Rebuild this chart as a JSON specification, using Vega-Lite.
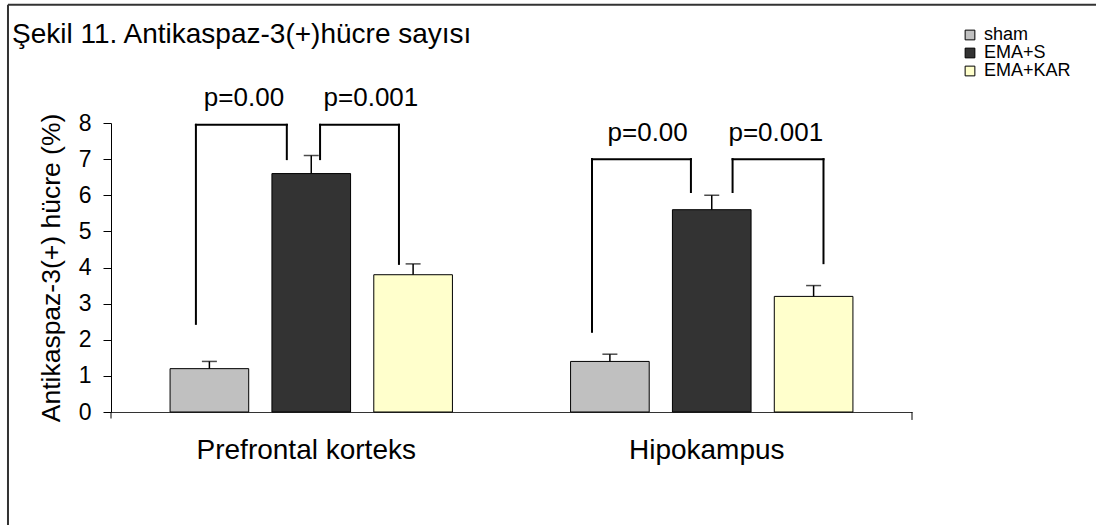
{
  "$schema": "https://vega.github.io/schema/vega-lite/v6.json",
  "width": 801,
  "height": 289,
  "autosize": {"type": "none"},
  "padding": {"left": 111, "top": 123, "right": 184, "bottom": 113},
  "background": "white",
  "config": {
    "font": "Liberation Sans",
    "view": {"stroke": null},
    "axis": {"labelColor": "black", "titleColor": "black", "domainColor": "black", "tickColor": "black", "grid": false, "labelFont": "Liberation Sans", "titleFont": "Liberation Sans"},
    "axisY": {"tickCount": 8, "labelOverlap": false},
    "legend": {"labelFont": "Liberation Sans", "labelColor": "black"}
  },
  "title": {
    "text": "Şekil 11. Antikaspaz-3(+)hücre sayısı",
    "anchor": "start",
    "frame": "group",
    "fontSize": 28,
    "fontWeight": "normal",
    "color": "black",
    "font": "Liberation Sans",
    "baseline": "alphabetic",
    "dx": -99,
    "offset": -67
  },
  "datasets": {
    "bars": [
      {"group": "Prefrontal korteks", "treatment": "sham", "value": 1.2, "upper": 1.4},
      {"group": "Prefrontal korteks", "treatment": "EMA+S", "value": 6.6, "upper": 7.1},
      {"group": "Prefrontal korteks", "treatment": "EMA+KAR", "value": 3.8, "upper": 4.1},
      {"group": "Hipokampus", "treatment": "sham", "value": 1.4, "upper": 1.6},
      {"group": "Hipokampus", "treatment": "EMA+S", "value": 5.6, "upper": 6.0},
      {"group": "Hipokampus", "treatment": "EMA+KAR", "value": 3.2, "upper": 3.5}
    ],
    "brackets": [
      {"id": "pfc1", "x": 0.212, "x2": 0.212, "y": 2.44, "y2": 7.95},
      {"id": "pfc1", "x": 0.212, "x2": 0.439, "y": 7.95, "y2": 7.95},
      {"id": "pfc1", "x": 0.439, "x2": 0.439, "y": 7.95, "y2": 7.0},
      {"id": "pfc2", "x": 0.522, "x2": 0.522, "y": 7.0, "y2": 7.95},
      {"id": "pfc2", "x": 0.522, "x2": 0.719, "y": 7.95, "y2": 7.95},
      {"id": "pfc2", "x": 0.719, "x2": 0.719, "y": 7.95, "y2": 4.1},
      {"id": "hip1", "x": 1.201, "x2": 1.201, "y": 2.22, "y2": 7.0},
      {"id": "hip1", "x": 1.201, "x2": 1.448, "y": 7.0, "y2": 7.0},
      {"id": "hip1", "x": 1.448, "x2": 1.448, "y": 7.0, "y2": 6.09},
      {"id": "hip2", "x": 1.552, "x2": 1.552, "y": 6.09, "y2": 7.0},
      {"id": "hip2", "x": 1.552, "x2": 1.779, "y": 7.0, "y2": 7.0},
      {"id": "hip2", "x": 1.779, "x2": 1.779, "y": 7.0, "y2": 4.12}
    ],
    "plabels": [
      {"x": 0.332, "y": 8.7, "label": "p=0.00"},
      {"x": 0.649, "y": 8.7, "label": "p=0.001"},
      {"x": 1.34, "y": 7.73, "label": "p=0.00"},
      {"x": 1.66, "y": 7.73, "label": "p=0.001"}
    ]
  },
  "layer": [
    {
      "data": {"name": "bars"},
      "encoding": {
        "x": {
          "field": "group", "type": "nominal",
          "sort": ["Prefrontal korteks", "Hipokampus"],
          "scale": {"paddingInner": 0, "paddingOuter": 0},
          "axis": {"title": null, "labelAngle": 0, "labelFontSize": 28, "labelPadding": 24, "labelLimit": 0, "labelOffset": -5, "ticks": false, "domainColor": "#333333", "domainWidth": 1}
        },
        "xOffset": {
          "field": "treatment", "type": "nominal",
          "sort": ["sham", "EMA+S", "EMA+KAR"],
          "scale": {"paddingInner": 0.228, "paddingOuter": 0.58}
        },
        "y": {
          "field": "value", "type": "quantitative",
          "scale": {"domain": [0, 8], "nice": false},
          "axis": {"title": "Antikaspaz-3(+) hücre (%)", "titleFontSize": 26.5, "titleFontWeight": "normal", "titleX": -60, "titleY": 144.5, "titleAlign": "center", "titleBaseline": "middle", "labelFontSize": 23, "labelPadding": 12, "tickSize": 8, "domainWidth": 1, "tickWidth": 1}
        }
      },
      "layer": [
        {
          "mark": {"type": "bar", "stroke": "black", "strokeWidth": 1},
          "encoding": {
            "color": {
              "field": "treatment", "type": "nominal",
              "scale": {"domain": ["sham", "EMA+S", "EMA+KAR"], "range": ["#C0C0C0", "#333333", "#FFFFCC"]},
              "legend": {"title": null, "orient": "none", "legendX": 850, "legendY": -97, "labelFontSize": 18, "symbolType": "square", "symbolSize": 95, "symbolStrokeColor": "black", "symbolStrokeWidth": 1, "rowPadding": 0, "labelOffset": 5}
            }
          }
        },
        {
          "mark": {"type": "rule", "color": "black", "strokeWidth": 1.5},
          "encoding": {"y2": {"field": "upper"}}
        },
        {
          "mark": {"type": "tick", "color": "black", "thickness": 1.5, "size": 15, "orient": "horizontal"},
          "encoding": {
            "y": {"field": "upper", "type": "quantitative"}
          }
        }
      ]
    },
    {
      "layer": [
        {
          "data": {"name": "brackets"},
          "mark": {"type": "rule", "color": "black", "strokeWidth": 2, "strokeCap": "square"},
          "encoding": {
            "x": {"field": "x", "type": "quantitative", "scale": {"domain": [0, 2], "nice": false, "zero": false}, "axis": null},
            "x2": {"field": "x2"},
            "y": {"field": "y", "type": "quantitative"},
            "y2": {"field": "y2"}
          }
        },
        {
          "data": {"name": "plabels"},
          "mark": {"type": "text", "fontSize": 26, "align": "center", "baseline": "middle", "color": "black", "font": "Liberation Sans"},
          "encoding": {
            "x": {"field": "x", "type": "quantitative", "scale": {"domain": [0, 2], "nice": false, "zero": false}, "axis": null},
            "y": {"field": "y", "type": "quantitative"},
            "text": {"field": "label"}
          }
        },
        {
          "data": {"values": [{}]},
          "mark": {"type": "rule", "color": "black", "strokeWidth": 1},
          "encoding": {
            "x": {"datum": 0, "type": "quantitative"},
            "y": {"datum": 0, "type": "quantitative"},
            "y2": {"datum": -0.18}
          }
        },
        {
          "data": {"values": [{}]},
          "mark": {"type": "rule", "color": "black", "strokeWidth": 1},
          "encoding": {
            "x": {"datum": 2, "type": "quantitative"},
            "y": {"datum": 0, "type": "quantitative"},
            "y2": {"datum": -0.22}
          }
        },
        {
          "data": {"values": [{}]},
          "mark": {"type": "rule", "color": "#333333", "strokeWidth": 2},
          "encoding": {
            "x": {"datum": -0.2572, "type": "quantitative"},
            "x2": {"datum": 3},
            "y": {"datum": 11.27, "type": "quantitative"}
          }
        },
        {
          "data": {"values": [{}]},
          "mark": {"type": "rule", "color": "#333333", "strokeWidth": 2},
          "encoding": {
            "x": {"datum": -0.2572, "type": "quantitative"},
            "y": {"datum": 11.27, "type": "quantitative"},
            "y2": {"datum": -4}
          }
        }
      ]
    }
  ],
  "resolve": {"scale": {"x": "independent"}}
}
